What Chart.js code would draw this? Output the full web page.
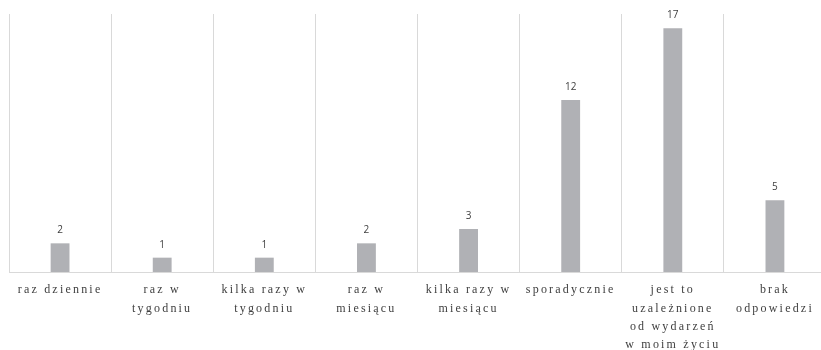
<!DOCTYPE html>
<html>
<head>
<meta charset="utf-8">
<script src="https://cdn.jsdelivr.net/npm/chart.js@4"></script>
<style>
  html, body { margin: 0; padding: 0; background: #ffffff; overflow: hidden; }
  #wrap { position: relative; width: 826px; height: 350px; }
</style>
</head>
<body>
<div id="wrap"><canvas id="chart"></canvas></div>
<script>
// Answer categories (multi-line labels as arrays of lines)
const categories = [
  ['raz dziennie'],
  ['raz w', 'tygodniu'],
  ['kilka razy w', 'tygodniu'],
  ['raz w', 'miesiącu'],
  ['kilka razy w', 'miesiącu'],
  ['sporadycznie'],
  ['jest to', 'uzależnione', 'od wydarzeń', 'w moim życiu'],
  ['brak', 'odpowiedzi']
];
// Number of responses per category
const responses = [2, 1, 1, 2, 3, 12, 17, 5];

const BAR_COLOR = '#b0b1b5';
const GRID_COLOR = '#d9d9d9';

// Wide letter spacing for the category labels; value labels drawn without it
const spacingPlugin = {
  id: 'labelSpacing',
  beforeDraw(chart) {
    chart.ctx.letterSpacing = '2.2px';
  },
  afterDatasetsDraw(chart) {
    const ctx = chart.ctx;
    ctx.save();
    ctx.letterSpacing = '0px';
    ctx.font = '10px "Open Sans", "Liberation Sans", sans-serif';
    ctx.fillStyle = '#404040';
    ctx.textAlign = 'center';
    ctx.textBaseline = 'middle';
    const meta = chart.getDatasetMeta(0);
    meta.data.forEach((bar, i) => {
      ctx.fillText(String(chart.data.datasets[0].data[i]), bar.x, bar.y - 13);
    });
    ctx.restore();
  }
};

new Chart(document.getElementById('chart'), {
  type: 'bar',
  data: {
    labels: categories,
    datasets: [{
      data: responses,
      backgroundColor: BAR_COLOR,
      borderWidth: 0,
      barPercentage: 0.9,
      categoryPercentage: 0.205
    }]
  },
  options: {
    responsive: true,
    maintainAspectRatio: false,
    animation: false,
    devicePixelRatio: 1,
    layout: { padding: { left: 9, right: 0, top: 14, bottom: 0 } },
    plugins: {
      legend: { display: false },
      tooltip: { enabled: false }
    },
    scales: {
      x: {
        offset: true,
        grid: {
          display: true,
          offset: true,
          color: GRID_COLOR,
          lineWidth: 1,
          drawTicks: false
        },
        border: { display: true, color: GRID_COLOR, width: 1 },
        ticks: {
          autoSkip: false,
          maxRotation: 0,
          minRotation: 0,
          padding: 9,
          color: '#404040',
          font: { family: '"Liberation Serif", "DejaVu Serif", serif', size: 12, lineHeight: 1.52 }
        },
        afterFit(scale) { scale.height = 78; }
      },
      y: {
        display: false,
        min: 0,
        max: 18
      }
    }
  },
  plugins: [spacingPlugin]
});
</script>
</body>
</html>
